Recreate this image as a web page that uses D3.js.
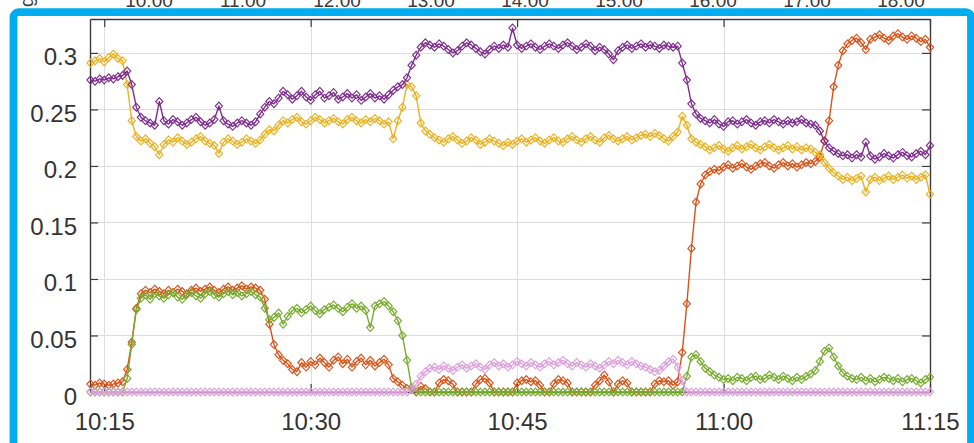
<!DOCTYPE html>
<html>
<head>
<meta charset="utf-8">
<script src="https://cdn.jsdelivr.net/npm/d3@7"></script>
<style>
  html, body { margin: 0; padding: 0; background: #fff; overflow: hidden; }
  svg { display: block; font-family: "Liberation Sans", Arial, Helvetica, sans-serif; }
</style>
</head>
<body>
<svg id="chart" width="974" height="443"></svg>
<script>
// ---- sampling: one reading every 20 s from 10:14:00 ----
const sampleStart = "10:14:00";
const sampleStepSeconds = 20;

// ---- axis ticks ----
const xTickLabels = ["10:15", "10:30", "10:45", "11:00", "11:15"];
const yTickValues = [0, 0.05, 0.1, 0.15, 0.2, 0.25, 0.3];
const upperTickLabels = ["10:00", "11:00", "12:00", "13:00", "14:00", "15:00", "16:00", "17:00", "18:00"];

// ---- series (fraction) ----
const seriesOrange = [
  .007,.006,.008,.007,.006,.007,.008,.009,
  .020,.044,.074,.087,.090,
  .088,.091,.089,.087,.090,.088,.091,.089,.087,.090,.092,.089,.091,.093,.090,.088,.091,.093,.090,.092,.094,.091,.093,.092,.090,
  .082,.060,.042,.033,.028,.025,
  .020,.018,.026,.022,.027,.024,.030,.026,.022,.028,.031,.025,.029,.022,.027,.030,.024,.028,.023,.026,.029,.024,
  .012,.009,.006,.003,
  .002,0,.005,.003,0,0,.008,.011,.010,.007,0,0,0,0,.007,.011,.012,.008,0,0,0,0,0,.008,.010,.011,.009,.010,.006,0,
  0,.007,.011,.010,.008,0,0,0,0,0,.006,.010,.015,.009,0,.007,.010,.008,0,0,0,0,0,.007,.010,.009,.010,.006,.009,
  .035,.078,.127,.168,.184,.192,.195,.197,.196,
  .199,.201,.198,.200,.202,.199,.197,.200,.202,.203,.200,.198,.201,.203,.200,.202,.199,.201,.203,.202,.204,
  .208,.222,.240,.270,.289,.302,.308,.311,.313,.309,.303,.312,.314,.316,.313,.311,.315,.317,.314,.312,.315,.313,.310,.312,.305
];

const seriesYellow = [
  .291,.293,.295,.292,.296,.299,.295,.293,
  .272,.240,.226,
  .222,.224,.220,.217,.210,.219,.223,.221,.225,.222,.219,.221,.224,.226,.222,.220,.218,.211,.221,.224,.222,.219,.221,.224,.222,.220,
  .223,.228,.232,.231,.236,.240,.238,.241,.243,.239,.237,.240,.243,.241,.238,.240,.242,.239,.237,.241,.243,.240,.238,.241,.239,.242,.240,.237,.239,.224,.240,
  .252,.272,.270,.262,.238,.231,
  .228,.225,.223,.221,.224,.226,.223,.220,.222,.225,.223,.219,.221,.224,.222,.220,.218,.221,.219,.222,.224,.221,.223,.225,.222,.220,.223,.225,.222,.221,
  .224,.226,.223,.221,.224,.226,.223,.221,.225,.227,.224,.222,.224,.226,.223,.225,.227,.228,.226,.229,.227,.224,.222,.226,
  .230,.244,.236,.224,.221,.219,.217,
  .214,.216,.218,.215,.213,.216,.218,.215,.217,.219,.216,.214,.217,.219,.216,.214,.216,.218,.215,.217,.214,.216,.215,
  .212,.210,.203,.198,.194,
  .191,.188,.190,.187,.189,.191,.177,.188,.190,.187,.189,.191,.188,.190,.192,.189,.191,.188,.190,.192,.175
];

const seriesPurple = [
  .276,.275,.277,.276,.278,.277,.279,.280,
  .284,.272,.252,
  .243,.240,.238,.236,.257,.240,.237,.241,.239,.236,.238,.241,.243,.239,.236,.238,.241,.253,.240,.237,.235,.238,.240,.238,.236,.239,
  .246,.252,.257,.255,.260,.266,.263,.259,.262,.266,.261,.258,.263,.266,.260,.262,.265,.259,.261,.264,.260,.263,.258,.261,.264,.260,.262,.259,.263,.267,.270,
  .272,.278,.289,.298,.305,.309,
  .307,.305,.308,.306,.303,.300,.302,.306,.309,.307,.304,.301,.299,.303,.306,.304,.307,.305,.322,.307,.304,.306,.308,.305,.303,.306,.308,.306,.304,.307,
  .309,.306,.303,.305,.308,.306,.302,.305,.303,.299,.294,.302,.305,.307,.304,.306,.308,.305,.307,.306,.304,.307,.306,.305,
  .306,.291,.276,.255,.246,.242,.240,
  .238,.241,.237,.235,.239,.240,.237,.239,.241,.238,.236,.239,.240,.238,.241,.239,.237,.240,.238,.239,.241,.238,.237,
  .236,.231,.222,.216,.213,
  .211,.209,.210,.207,.210,.208,.221,.209,.206,.208,.211,.209,.207,.210,.212,.209,.208,.211,.213,.210,.218
];

const seriesGreen = [
  0,0,0,0,0,0,0,0,
  .012,.042,.073,.083,.086,
  .082,.087,.085,.083,.086,.088,.084,.082,.086,.088,.085,.083,.087,.089,.086,.084,.087,.089,.086,.088,.085,.087,.089,.086,.084,
  .074,.064,.066,.070,
  .060,.067,.072,.074,.070,.073,.076,.072,.069,.073,.075,.077,.074,.071,.075,.078,.074,.076,.072,.057,.076,.078,.080,.076,
  .071,.063,.050,.028,.004,
  0,0,0,0,0,0,0,0,0,0,0,0,0,0,0,0,0,0,0,0,0,0,0,0,0,0,0,0,0,0,
  0,0,0,0,0,0,0,0,0,0,0,0,0,0,0,0,0,0,0,0,0,0,0,0,0,0,0,0,0,
  .014,.031,.033,.027,.021,.018,.015,.013,
  .011,.012,.010,.013,.012,.010,.013,.014,.011,.012,.015,.013,.011,.014,.012,.010,.013,.011,.014,.016,
  .019,.027,.036,.039,.031,.023,.017,
  .014,.012,.011,.013,.010,.012,.009,.011,.013,.012,.010,.012,.009,.011,.012,.010,.008,.011,.013
];

const seriesPink = [
  0,0,0,0,0,0,0,0,0,0,0,0,0,0,0,0,0,0,0,0,0,0,0,0,0,0,0,0,0,0,0,0,0,0,0,
  0,0,0,0,0,0,0,0,0,0,0,0,0,0,0,0,0,0,0,0,0,0,0,0,0,0,0,0,0,0,0,0,0,0,0,
  .002,.007,.014,.018,.021,.022,
  .020,.023,.021,.019,.022,.024,.021,.023,.025,.022,.020,.024,.026,.023,.025,.022,.024,.027,.025,.023,.026,.024,.022,.025,.027,.024,
  .026,.028,.025,.023,.026,.024,.022,.025,.023,.021,.024,.027,.025,.028,.026,.024,.027,.025,.023,.022,.020,.018,.019,.023,.027,.029,
  .022,.010,
  0,0,0,0,0,0,0,0,0,0,0,0,0,0,0,0,0,0,0,0,0,0,0,0,0,0,0,
  0,0,0,0,0,0,0,0,0,0,0,0,0,0,0,0,0,0,0,0,0,0,0,0,0,0,0
];

const seriesColors = {
  orange: "#D95319",
  yellow: "#EDB120",
  purple: "#7E2F8E",
  green:  "#77AC30",
  pink:   "#DDA0DD"
};

// ---- helpers ----
const parseClock = d3.timeParse("%H:%M:%S");
const clock = s => parseClock(s.length === 5 ? s + ":00" : s);
const t0 = clock(sampleStart);
const sampleTime = i => d3.timeSecond.offset(t0, i * sampleStepSeconds);

// ---- layout ----
const svg = d3.select("#chart");
const W = 974, H = 443;
const plot = { left: 90, right: 930, top: 19, bottom: 392 };

const x = d3.scaleTime()
  .domain([clock("10:13:58"), clock("11:15:00")])
  .range([plot.left, plot.right]);
const y = d3.scaleLinear()
  .domain([0, 0.33])
  .range([plot.bottom, plot.top]);

const xTicks = xTickLabels.map(clock);
const fmtY = d => (d === 0 ? "0" : String(+d.toFixed(2)));

svg.append("rect").attr("width", W).attr("height", H).attr("fill", "#fff");

// grid
const grid = svg.append("g").attr("stroke", "#dcdcdc").attr("stroke-width", 1);
grid.selectAll("line.gx").data(xTicks).join("line")
  .attr("x1", d => Math.round(x(d)) + 0.5).attr("x2", d => Math.round(x(d)) + 0.5)
  .attr("y1", plot.top).attr("y2", plot.bottom);
grid.selectAll("line.gy").data(yTickValues).join("line")
  .attr("x1", plot.left).attr("x2", plot.right)
  .attr("y1", d => Math.round(y(d)) + 0.5).attr("y2", d => Math.round(y(d)) + 0.5);

// axes (inward ticks on all four sides)
const axisColor = "#3a3a3a";
function styleAxis(g) {
  g.select(".domain").attr("stroke", axisColor).attr("stroke-width", 1.4);
  g.selectAll(".tick line").attr("stroke", axisColor).attr("stroke-width", 1.2);
  g.selectAll(".tick text").attr("fill", "#333").attr("font-size", 24)
    .attr("font-family", "Liberation Sans, Arial, Helvetica, sans-serif");
}
svg.append("g").attr("transform", `translate(0,${plot.bottom})`)
  .call(d3.axisBottom(x).tickValues(xTicks).tickFormat(d3.timeFormat("%H:%M"))
    .tickSizeInner(-8).tickSizeOuter(0).tickPadding(21))
  .call(styleAxis);
svg.append("g").attr("transform", `translate(0,${plot.top})`)
  .call(d3.axisTop(x).tickValues(xTicks).tickFormat("")
    .tickSizeInner(-8).tickSizeOuter(0))
  .call(styleAxis);
const yAxisL = svg.append("g").attr("transform", `translate(${plot.left},0)`)
  .call(d3.axisLeft(y).tickValues(yTickValues).tickFormat(fmtY)
    .tickSizeInner(-8).tickSizeOuter(0).tickPadding(13))
  .call(styleAxis);
yAxisL.selectAll(".tick text").attr("dy", "0.5em");
svg.append("g").attr("transform", `translate(${plot.right},0)`)
  .call(d3.axisRight(y).tickValues(yTickValues).tickFormat("")
    .tickSizeInner(-8).tickSizeOuter(0))
  .call(styleAxis);

// series: line + open diamond markers
const diamond = {
  draw(ctx, size) {
    const r = Math.sqrt(size / 2);
    ctx.moveTo(0, -r * 1.08); ctx.lineTo(r, 0); ctx.lineTo(0, r * 1.08); ctx.lineTo(-r, 0); ctx.closePath();
  }
};
const marker = d3.symbol().type(diamond).size(26);
const line = d3.line().x((d, i) => x(sampleTime(i))).y(d => y(d));

const drawOrder = [
  [seriesOrange, seriesColors.orange],
  [seriesYellow, seriesColors.yellow],
  [seriesPurple, seriesColors.purple],
  [seriesGreen,  seriesColors.green],
  [seriesPink,   seriesColors.pink]
];
drawOrder.forEach(([vals, color]) => {
  const g = svg.append("g");
  g.append("path").datum(vals).attr("d", line)
    .attr("fill", "none").attr("stroke", color).attr("stroke-width", 1.4)
    .attr("stroke-linejoin", "round");
  g.selectAll("path.m").data(vals).join("path").attr("class", "m")
    .attr("d", marker)
    .attr("transform", (d, i) => `translate(${x(sampleTime(i))},${y(d)})`)
    .attr("fill", "none").attr("stroke", color).attr("stroke-width", 1.15);
});

// time labels of the panel above, cut by the top edge
const xUpper = d3.scaleTime()
  .domain([clock("10:00"), clock("18:00")])
  .range([149, 901]);
svg.append("g").selectAll("text").data(upperTickLabels).join("text")
  .attr("x", d => xUpper(clock(d))).attr("y", 7)
  .attr("text-anchor", "middle").attr("font-size", 19).attr("fill", "#3a3a3a")
  .text(d => d);
svg.append("text").attr("transform", "translate(33,7) rotate(-90)")
  .attr("font-size", 19).attr("fill", "#3a3a3a").text("g");

// selection frame
svg.append("rect")
  .attr("x", 13.5).attr("y", 12.2).attr("width", 957.5).attr("height", 460)
  .attr("rx", 5).attr("fill", "none")
  .attr("stroke", "#00ADEF").attr("stroke-width", 7.8);
</script>
</body>
</html>
